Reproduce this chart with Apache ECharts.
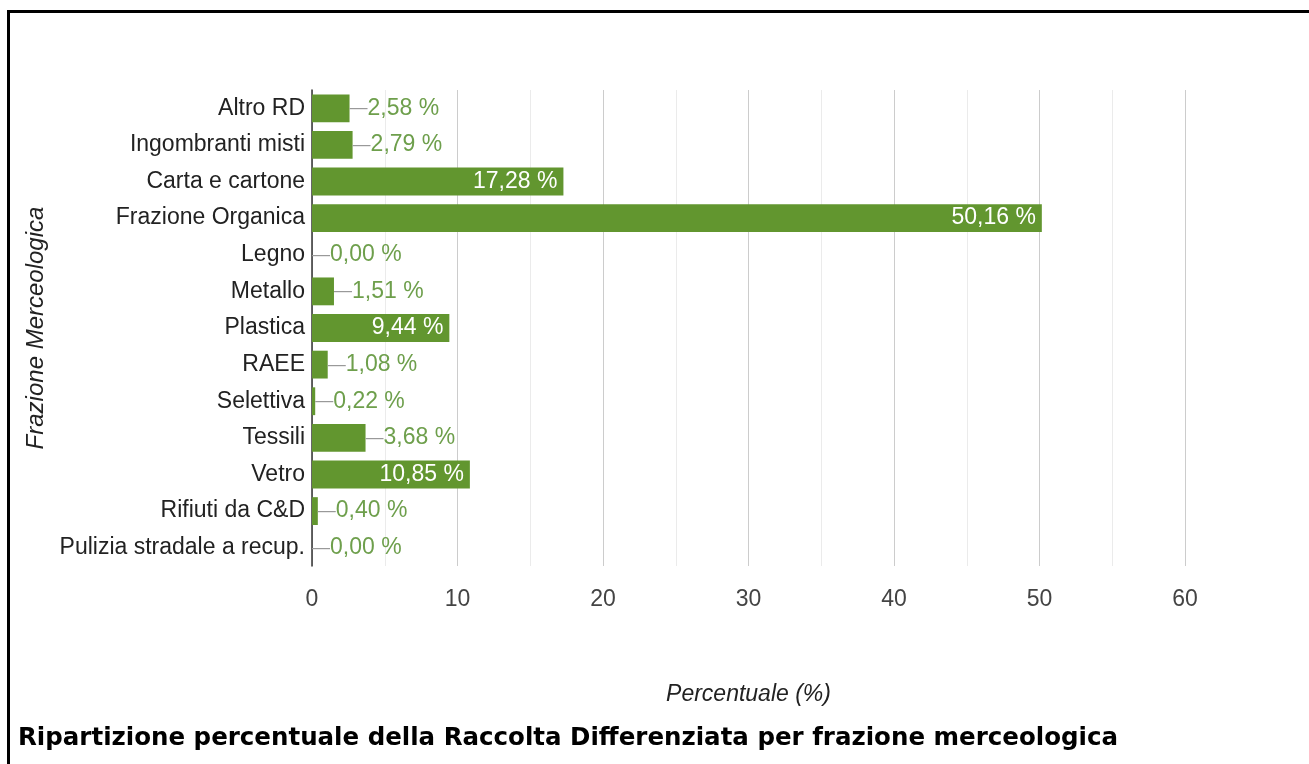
<!DOCTYPE html>
<html>
<head>
<meta charset="utf-8">
<script src="https://cdn.jsdelivr.net/npm/echarts@6/dist/echarts.min.js"></script>
<style>
  html, body { margin: 0; padding: 0; background: #fff; }
  #chart { width: 1309px; height: 764px; }
</style>
</head>
<body>
<div id="chart"></div>
<script>
// categorie merceologiche (dall'alto verso il basso)
const categories = [
    'Altro RD', 'Ingombranti misti', 'Carta e cartone', 'Frazione Organica',
    'Legno', 'Metallo', 'Plastica', 'RAEE', 'Selettiva', 'Tessili',
    'Vetro', 'Rifiuti da C&D', 'Pulizia stradale a recup.'
];
// percentuali
const percentages = [2.58, 2.79, 17.28, 50.16, 0.00, 1.51, 9.44, 1.08, 0.22, 3.68, 10.85, 0.40, 0.00];
const xTicks = [0, 10, 20, 30, 40, 50, 60];

const FONT = '"Liberation Sans", Arial, sans-serif';
const BAR_COLOR = '#62962f';
const LABEL_GREEN = '#6e9f4c';

const fmt = (v) => v.toFixed(2).replace('.', ',') + ' %';

// barre grandi: etichetta bianca dentro, altrimenti fuori con "stelo"
const seriesData = percentages.map(v => {
    if (v >= 5) {
        return {
            value: v,
            label: {
                show: true,
                position: 'insideRight',
                distance: 6,
                color: '#fff',
                fontSize: 23,
                fontFamily: FONT,
                formatter: (p) => fmt(p.value)
            }
        };
    }
    return {
        value: v,
        label: {
            show: true,
            position: 'right',
            distance: 0,
            formatter: (p) => '{s|—}{v|' + fmt(p.value) + '}',
            rich: {
                s: { color: '#999', fontSize: 18, fontFamily: FONT },
                v: { color: LABEL_GREEN, fontSize: 23, fontFamily: FONT }
            }
        }
    };
});

const chart = echarts.init(document.getElementById('chart'));

const option = {
    animation: false,
    backgroundColor: '#fff',
    title: {
        text: 'Ripartizione percentuale della Raccolta Differenziata per frazione merceologica',
        left: 13,
        top: 721,
        textStyle: {
            fontFamily: '"DejaVu Sans", sans-serif',
            fontWeight: 'bold',
            fontSize: 24.5,
            color: '#000'
        }
    },
    graphic: [{
        type: 'rect',
        shape: { x: 8.5, y: 11.5, width: 1400, height: 900 },
        style: { fill: 'none', stroke: '#000', lineWidth: 3 },
        silent: true
    }],
    grid: {
        left: 312,
        right: 124,
        top: 90,
        bottom: 198
    },
    xAxis: {
        type: 'value',
        min: 0,
        max: 60,
        interval: 10,
        name: 'Percentuale (%)',
        nameLocation: 'middle',
        nameGap: 117,
        nameTextStyle: {
            fontFamily: FONT,
            fontStyle: 'italic',
            fontSize: 23,
            color: '#222'
        },
        axisLine: { show: false },
        axisTick: { show: false },
        axisLabel: {
            margin: 22,
            fontFamily: FONT,
            fontSize: 23,
            color: '#444',
            formatter: (v) => xTicks.includes(v) ? String(v) : ''
        },
        splitLine: { lineStyle: { color: '#cccccc', width: 1 } },
        minorTick: { show: false, splitNumber: 2 },
        minorSplitLine: { show: true, lineStyle: { color: '#ebebeb', width: 1 } }
    },
    yAxis: {
        type: 'category',
        data: categories,
        inverse: true,
        name: 'Frazione Merceologica',
        nameLocation: 'middle',
        nameGap: 262,
        nameRotate: 90,
        nameTextStyle: {
            fontFamily: FONT,
            fontStyle: 'italic',
            fontSize: 24,
            color: '#222'
        },
        axisLine: { show: true, lineStyle: { color: '#333', width: 1.5 } },
        axisTick: { show: false },
        axisLabel: {
            margin: 7,
            fontFamily: FONT,
            fontSize: 23,
            color: '#222'
        },
        splitLine: { show: false }
    },
    series: [{
        type: 'bar',
        data: seriesData,
        barCategoryGap: '24%',
        itemStyle: { color: BAR_COLOR },
        z: 3
    }]
};

chart.setOption(option);
</script>
</body>
</html>
